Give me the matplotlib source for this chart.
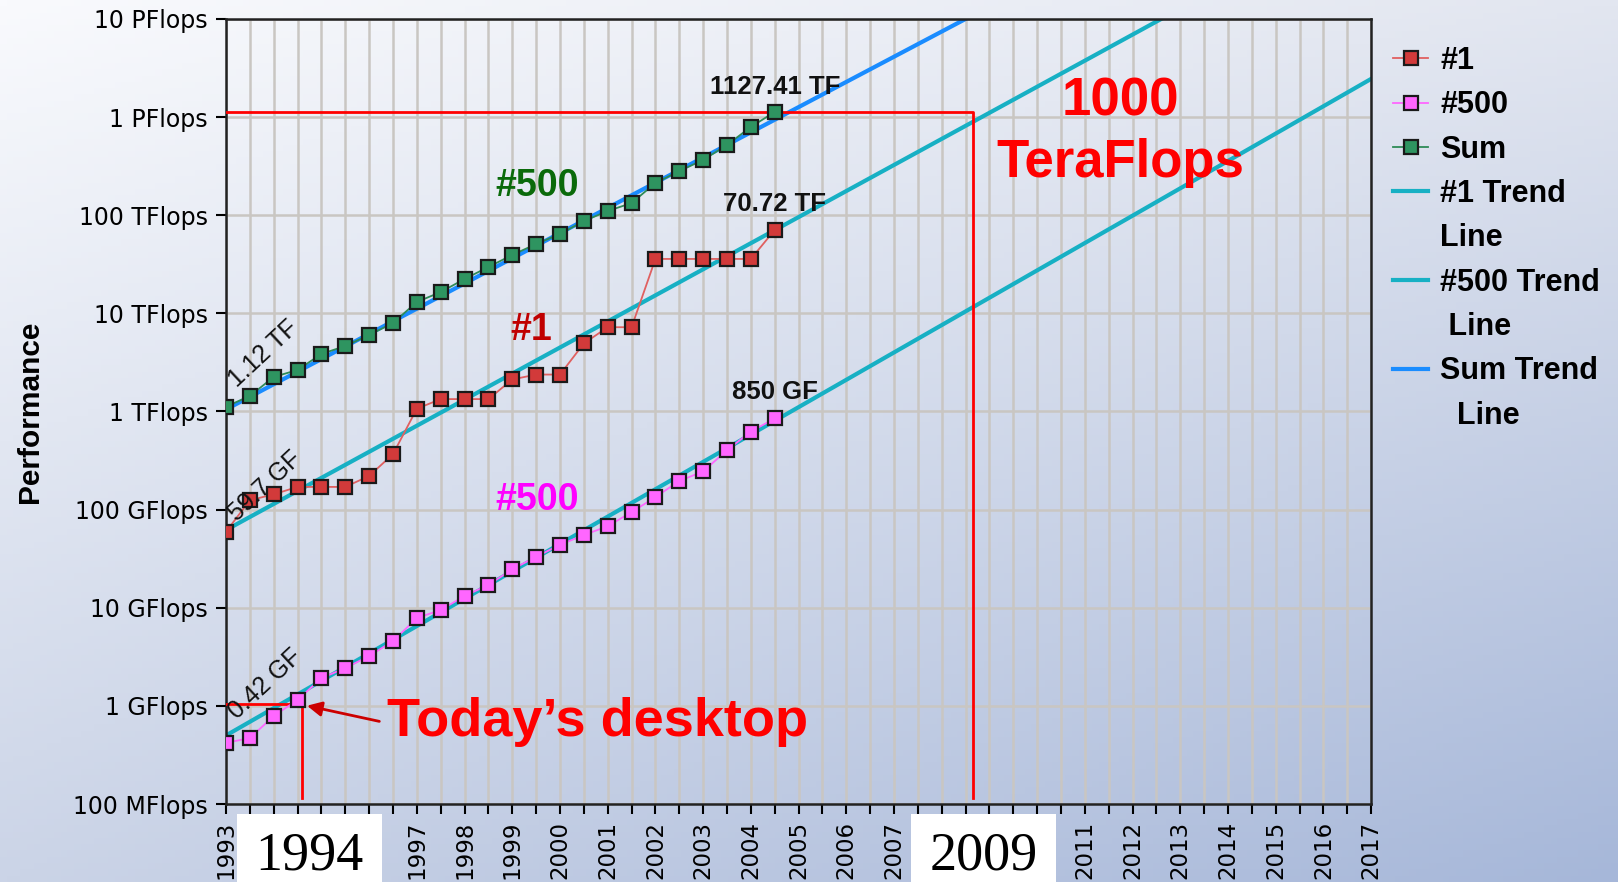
import numpy as np
import matplotlib.pyplot as plt
from matplotlib.lines import Line2D
from matplotlib.patches import Rectangle

# TOP500 lists (June / November), performance in GFlops
list_years = [1993.0, 1993.5, 1994.0, 1994.5, 1995.0, 1995.5, 1996.0, 1996.5,
              1997.0, 1997.5, 1998.0, 1998.5, 1999.0, 1999.5, 2000.0, 2000.5,
              2001.0, 2001.5, 2002.0, 2002.5, 2003.0, 2003.5, 2004.0, 2004.5]
rank1 = [59.7, 124.5, 143.4, 170.4, 170.4, 170.4, 220.4, 368.2,
         1068, 1338, 1338, 1338, 2121, 2379, 2379, 4938,
         7226, 7226, 35860, 35860, 35860, 35860, 35860, 70720]
rank500 = [0.42, 0.47, 0.79, 1.15, 1.92, 2.43, 3.22, 4.58,
           7.87, 9.49, 13.2, 17.1, 24.7, 33.1, 43.8, 55.1,
           67.8, 94.3, 134.3, 195.8, 245.1, 403.4, 624, 850]
total = [1120, 1440, 2250, 2650, 3860, 4650, 6020, 7980,
         13060, 16500, 22400, 29700, 39400, 50900, 64400, 87300,
         110400, 133100, 213000, 282000, 366000, 520000, 794000, 1127410]

# trend lines (end points)
trend1_years = [1993.0, 2012.6]
trend1_vals = [62.0, 1.0e7]
trend500_years = [1993.0, 2017.0]
trend500_vals = [0.5, 2.45e6]
trendsum_years = [1993.0, 2008.5]
trendsum_vals = [1050.0, 1.0e7]

ytick_vals = [0.1, 1, 10, 100, 1e3, 1e4, 1e5, 1e6, 1e7]
ytick_labels = ['100 MFlops', '1 GFlops', '10 GFlops', '100 GFlops', '1 TFlops',
                '10 TFlops', '100 TFlops', '1 PFlops', '10 PFlops']
label_years = list(range(1993, 2018))
half_years = [y + 0.5 for y in label_years[:-1]]
hidden_years = [1994, 1995, 1996, 2008, 2009, 2010]  # covered by the white boxes

# guide lines: "today's desktop" and "1000 TeraFlops"
desk_year, desk_val = 1994.59, 1.05
peta_year, peta_val = 2008.66, 1127410
guide_bottom = 0.115

fig = plt.figure(figsize=(16.18, 8.82), dpi=100)

# soft gradient background
bg = fig.add_axes([0, 0, 1, 1], zorder=-10)
gx, gy = np.meshgrid(np.linspace(0, 1, 240), np.linspace(0, 1, 140))
gx, gy = gx[..., None], gy[..., None]
tl = np.array([249, 250, 253]) / 255
tr = np.array([226, 230, 240]) / 255
bl = np.array([203, 212, 231]) / 255
br = np.array([166, 183, 217]) / 255
img = (1 - gx) * (1 - gy) * tl + gx * (1 - gy) * tr + (1 - gx) * gy * bl + gx * gy * br
bg.imshow(img, aspect='auto', extent=[0, 1, 0, 1], origin='upper')
bg.axis('off')

ax = fig.add_axes([0.1397, 0.0884, 0.7077, 0.8901])
ax.set_facecolor('none')
ax.set_yscale('log')
ax.set_xlim(1993, 2017)
ax.set_ylim(0.1, 1e7)

# grid
ax.set_xticks(label_years)
ax.set_xticks(half_years, minor=True)
ax.set_xticklabels(['' if y in hidden_years else str(y) for y in label_years],
                   rotation=90, fontsize=16.5)
ax.set_yticks(ytick_vals)
ax.set_yticklabels(ytick_labels, fontsize=17)
ax.yaxis.set_minor_locator(plt.NullLocator())
ax.grid(True, which='both', color='#c9c6c2', lw=1.8, zorder=0)
ax.tick_params(axis='both', which='both', direction='out', length=7, width=1.5, color='black')
ax.tick_params(axis='y', pad=6)
ax.tick_params(axis='x', pad=5)
for s in ax.spines.values():
    s.set_color('#222222')
    s.set_linewidth(1.8)
ax.set_ylabel('Performance', fontsize=21.5, fontweight='bold', family='Liberation Sans', labelpad=21)

# trend lines
t1, = ax.plot(trend1_years, trend1_vals, color='#17b0c4', lw=3, zorder=2)
t500, = ax.plot(trend500_years, trend500_vals, color='#17b0c4', lw=3, zorder=2)
tsum, = ax.plot(trendsum_years, trendsum_vals, color='#1a8cff', lw=3, zorder=2)

# red guides
ax.plot([1993, peta_year, peta_year], [peta_val, peta_val, guide_bottom], color='#ff0000', lw=2, zorder=3)
ax.plot([1993, desk_year, desk_year], [desk_val, desk_val, guide_bottom], color='#ff0000', lw=2, zorder=3)

# data series
mk = dict(marker='s', markersize=10.5, markeredgecolor='#1a1a1a', markeredgewidth=1.6, lw=1.3, zorder=4)
l1, = ax.plot(list_years, rank1, color='#e06060', markerfacecolor='#d23a3a', **mk)
l500, = ax.plot(list_years, rank500, color='#ff66ff', markerfacecolor='#ff66ff', **mk)
lsum, = ax.plot(list_years, total, color='#2e8b57', markerfacecolor='#2e9460', **mk)

# value labels
val_kw = dict(textcoords='offset points', ha='center', va='center', fontsize=18.5,
              family='Liberation Sans', fontweight='bold', color='#111111', zorder=5)
ax.annotate('1127.41 TF', xy=(list_years[-1], total[-1]), xytext=(0, 18), **val_kw)
ax.annotate('70.72 TF', xy=(list_years[-1], rank1[-1]), xytext=(0, 19), **val_kw)
ax.annotate('850 GF', xy=(list_years[-1], rank500[-1]), xytext=(0, 19), **val_kw)

rot_kw = dict(textcoords='offset points', ha='center', va='center', fontsize=18,
              family='Liberation Sans', color='#111111', rotation=43, zorder=5)
ax.annotate('1.12 TF', xy=(list_years[0], total[0]), xytext=(27, 38), **rot_kw)
ax.annotate('59.7 GF', xy=(list_years[0], rank1[0]), xytext=(28, 33), **rot_kw)
ax.annotate('0.42 GF', xy=(list_years[0], rank500[0]), xytext=(28, 42), **rot_kw)

# series captions
big = dict(family='Liberation Sans', fontweight='bold', ha='center', va='center', zorder=6)
ax.text(1999.52, 1.99e5, '#500', color='#0a6a0a', fontsize=27, **big)
ax.text(1999.39, 6775, '#1', color='#c00000', fontsize=27, **big)
ax.text(1999.52, 125, '#500', color='#ff00ff', fontsize=27, **big)
ax.text(2011.74, 7.0e5, '1000\nTeraFlops', color='#ff0000', fontsize=38,
        linespacing=1.3, multialignment='center', **big)
ax.text(1996.37, 0.686, 'Today\u2019s desktop', color='#ff0000', fontsize=39,
        family='Liberation Sans', fontweight='bold', ha='left', va='center', zorder=6)
ax.annotate('', xy=(desk_year + 0.05, desk_val * 0.97), xytext=(1996.27, 0.686),
            arrowprops=dict(arrowstyle='-|>', color='#cc0000', lw=2, mutation_scale=22), zorder=6)

# legend
blank = Line2D([], [], color='none')
leg = fig.legend([l1, l500, lsum, t1, blank, t500, blank, tsum, blank],
                 ['#1', '#500', 'Sum', '#1 Trend', 'Line', '#500 Trend', ' Line', 'Sum Trend', '  Line'],
                 loc='upper left', bbox_to_anchor=(0.861, 0.948), frameon=False,
                 prop={'family': 'Liberation Sans', 'weight': 'bold', 'size': 22},
                 handlelength=1.15, handletextpad=0.4, labelspacing=0.47,
                 borderpad=0, borderaxespad=0)

# white boxes over some year labels
for x0, txt in [(237, '1994'), (911, '2009')]:
    fig.patches.append(Rectangle((x0 / 1618, 0), 145 / 1618, 68 / 882, transform=fig.transFigure,
                                 facecolor='white', edgecolor='none', zorder=20))
    fig.text((x0 + 72.5) / 1618, 0.029, txt, family='Liberation Serif', fontsize=39,
             ha='center', va='center', zorder=21)

fig.savefig('out.png', dpi=100)
